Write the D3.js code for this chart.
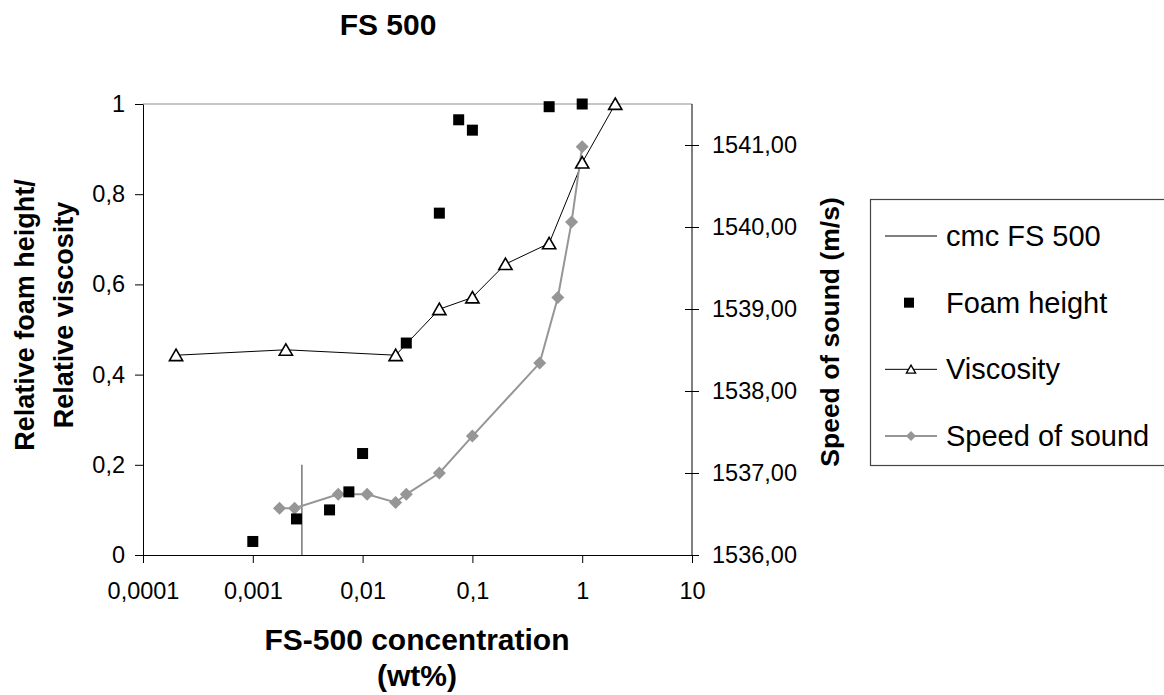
<!DOCTYPE html>
<html>
<head>
<meta charset="utf-8">
<script src="https://cdn.jsdelivr.net/npm/d3@7"></script>
<style>
  body { margin: 0; background: #fff; }
  text { font-family: "Liberation Sans", Arial, sans-serif; fill: #000; }
</style>
</head>
<body>
<div id="container"></div>
<script>
var W = 1164, H = 695;

// concentration (wt%) and readings
var foamX = [0.001, 0.0025, 0.005, 0.0075, 0.01, 0.025, 0.05, 0.075, 0.1, 0.5, 1];
var foamY = [0.03, 0.08, 0.10, 0.14, 0.225, 0.47, 0.758, 0.965, 0.942, 0.994, 1.0];

var viscX = [0.0002, 0.002, 0.02, 0.05, 0.1, 0.2, 0.5, 1, 2];
var viscY = [0.443, 0.455, 0.443, 0.545, 0.571, 0.645, 0.691, 0.870, 1.0];

var soundX = [0.00175, 0.0024, 0.006, 0.011, 0.02, 0.025, 0.05, 0.1, 0.41, 0.6, 0.8, 1];
var soundY = [1536.57, 1536.57, 1536.74, 1536.74, 1536.64, 1536.74, 1537.0, 1537.45, 1538.34, 1539.14, 1540.06, 1540.98];

var cmcX = [0.0028, 0.0028];
var cmcY = [0, 0.2];

var xTicks = [0.0001, 0.001, 0.01, 0.1, 1, 10];
var yLeftTicks = [0, 0.2, 0.4, 0.6, 0.8, 1];
var yRightTicks = [1536, 1537, 1538, 1539, 1540, 1541];

var legendNames = ["cmc FS 500", "Foam height", "Viscosity", "Speed of sound"];

var comma = function(s) { return s.replace(".", ","); };

var svg = d3.select("#container")
    .append("svg")
        .attr("width", W)
        .attr("height", H);

var x = d3.scaleLog().domain([0.0001, 10]).range([143, 692]);
var yL = d3.scaleLinear().domain([0, 1]).range([555, 104]);
var yR = d3.scaleLinear().domain([1536, 1541.5]).range([555, 104]);

// top border line of plot area
svg.append("line")
    .attr("x1", x(0.0001)).attr("x2", x(10))
    .attr("y1", yL(1)).attr("y2", yL(1))
    .attr("stroke", "#b4b4b4")
    .attr("stroke-width", 1.5);

// axes
var gx = svg.append("g")
    .attr("transform", "translate(0," + yL(0) + ")")
    .call(d3.axisBottom(x).tickValues(xTicks).tickSize(8).tickSizeOuter(0).tickPadding(19)
        .tickFormat(function(d) { return comma(String(+d.toPrecision(1))); }));

var gl = svg.append("g")
    .attr("transform", "translate(" + x(0.0001) + ",0)")
    .call(d3.axisLeft(yL).tickValues(yLeftTicks).tickSize(8).tickSizeOuter(0).tickPadding(10)
        .tickFormat(function(d) { return comma(String(+d.toFixed(1))); }));

var gr = svg.append("g")
    .attr("transform", "translate(" + x(10) + ",0)")
    .call(d3.axisRight(yR).tickValues(yRightTicks).tickSize(7).tickSizeOuter(0).tickPadding(13)
        .tickFormat(function(d) { return comma(d.toFixed(2)); }));
gr.selectAll(".tick line").attr("x1", -7);
// right axis runs up to the top of the plot
gr.select(".domain").attr("d", "M0," + yR(1541.5) + "V" + yR(1536));

[gx, gl, gr].forEach(function(g) {
    g.selectAll("text").style("font-size", "23.5px").attr("fill", "#000");
    g.selectAll("line").attr("stroke", "#000");
    g.select(".domain").attr("stroke", "#000");
});

// cmc line
svg.append("line")
    .attr("x1", x(cmcX[0])).attr("x2", x(cmcX[1]))
    .attr("y1", yL(cmcY[0])).attr("y2", yL(cmcY[1]))
    .attr("stroke", "#555")
    .attr("stroke-width", 1.2);

// viscosity line
var viscData = viscX.map(function(d, i) { return [d, viscY[i]]; });
svg.append("path")
    .datum(viscData)
    .attr("fill", "none")
    .attr("stroke", "#000")
    .attr("stroke-width", 1)
    .attr("d", d3.line().x(function(d) { return x(d[0]); }).y(function(d) { return yL(d[1]); }));

// speed of sound line
var soundData = soundX.map(function(d, i) { return [d, soundY[i]]; });
svg.append("path")
    .datum(soundData)
    .attr("fill", "none")
    .attr("stroke", "#969696")
    .attr("stroke-width", 2)
    .attr("d", d3.line().x(function(d) { return x(d[0]); }).y(function(d) { return yR(d[1]); }));

var triPath = function(s) { return "M0," + (-s) + "L" + (s * 1.1) + "," + (s * 0.9) + "L" + (-s * 1.1) + "," + (s * 0.9) + "Z"; };
var diaPath = function(s) { return "M0," + (-s) + "L" + s + ",0L0," + s + "L" + (-s) + ",0Z"; };

svg.selectAll(".sound")
    .data(soundData)
    .enter()
    .append("path")
    .attr("class", "sound")
    .attr("transform", function(d) { return "translate(" + x(d[0]) + "," + yR(d[1]) + ")"; })
    .attr("d", diaPath(6.5))
    .attr("fill", "#969696");

svg.selectAll(".visc")
    .data(viscData)
    .enter()
    .append("path")
    .attr("class", "visc")
    .attr("transform", function(d) { return "translate(" + x(d[0]) + "," + yL(d[1]) + ")"; })
    .attr("d", triPath(6))
    .attr("fill", "#fff")
    .attr("stroke", "#000")
    .attr("stroke-width", 1.6);

var foamData = foamX.map(function(d, i) { return [d, foamY[i]]; });
svg.selectAll(".foam")
    .data(foamData)
    .enter()
    .append("rect")
    .attr("class", "foam")
    .attr("x", function(d) { return x(d[0]) - 5.5; })
    .attr("y", function(d) { return yL(d[1]) - 5.5; })
    .attr("width", 11)
    .attr("height", 11)
    .attr("fill", "#000");

// titles
svg.append("text")
    .attr("x", 388).attr("y", 35)
    .attr("text-anchor", "middle")
    .style("font-size", "30px").style("font-weight", "bold")
    .text("FS 500");

svg.append("text")
    .attr("x", 417).attr("y", 650)
    .attr("text-anchor", "middle")
    .style("font-size", "30px").style("font-weight", "bold")
    .text("FS-500 concentration");
svg.append("text")
    .attr("x", 417).attr("y", 686)
    .attr("text-anchor", "middle")
    .style("font-size", "30px").style("font-weight", "bold")
    .text("(wt%)");

svg.append("text")
    .attr("transform", "translate(34,315) rotate(-90)")
    .attr("text-anchor", "middle")
    .style("font-size", "27px").style("font-weight", "bold")
    .text("Relative foam height/");
svg.append("text")
    .attr("transform", "translate(73,315) rotate(-90)")
    .attr("text-anchor", "middle")
    .style("font-size", "27px").style("font-weight", "bold")
    .text("Relative viscosity");

svg.append("text")
    .attr("transform", "translate(839,332) rotate(-90)")
    .attr("text-anchor", "middle")
    .style("font-size", "26.5px").style("font-weight", "bold")
    .text("Speed of sound (m/s)");

// legend
var lg = svg.append("g");
lg.append("rect")
    .attr("x", 870.5).attr("y", 199.5)
    .attr("width", 320).attr("height", 266)
    .attr("fill", "none")
    .attr("stroke", "#444")
    .attr("stroke-width", 1.2);

var rowY = d3.scalePoint().domain(legendNames).range([236, 436]);

legendNames.forEach(function(name, i) {
    var cy = rowY(name);
    var g = lg.append("g").attr("transform", "translate(0," + cy + ")");
    if (i != 1) {
        g.append("line")
            .attr("x1", 885).attr("x2", 937)
            .attr("stroke", i == 3 ? "#969696" : "#000")
            .attr("stroke-width", i == 3 ? 2 : 1);
    }
    if (i == 1) {
        g.append("rect").attr("x", 904).attr("y", -5).attr("width", 10).attr("height", 10).attr("fill", "#000");
    } else if (i == 2) {
        g.append("path").attr("transform", "translate(911,0)").attr("d", triPath(4.2))
            .attr("fill", "#fff").attr("stroke", "#000").attr("stroke-width", 1.3);
    } else if (i == 3) {
        g.append("path").attr("transform", "translate(911,0)").attr("d", diaPath(5)).attr("fill", "#969696");
    }
    g.append("text")
        .attr("x", 946).attr("y", 10)
        .style("font-size", "29px")
        .text(name);
});
</script>
</body>
</html>
